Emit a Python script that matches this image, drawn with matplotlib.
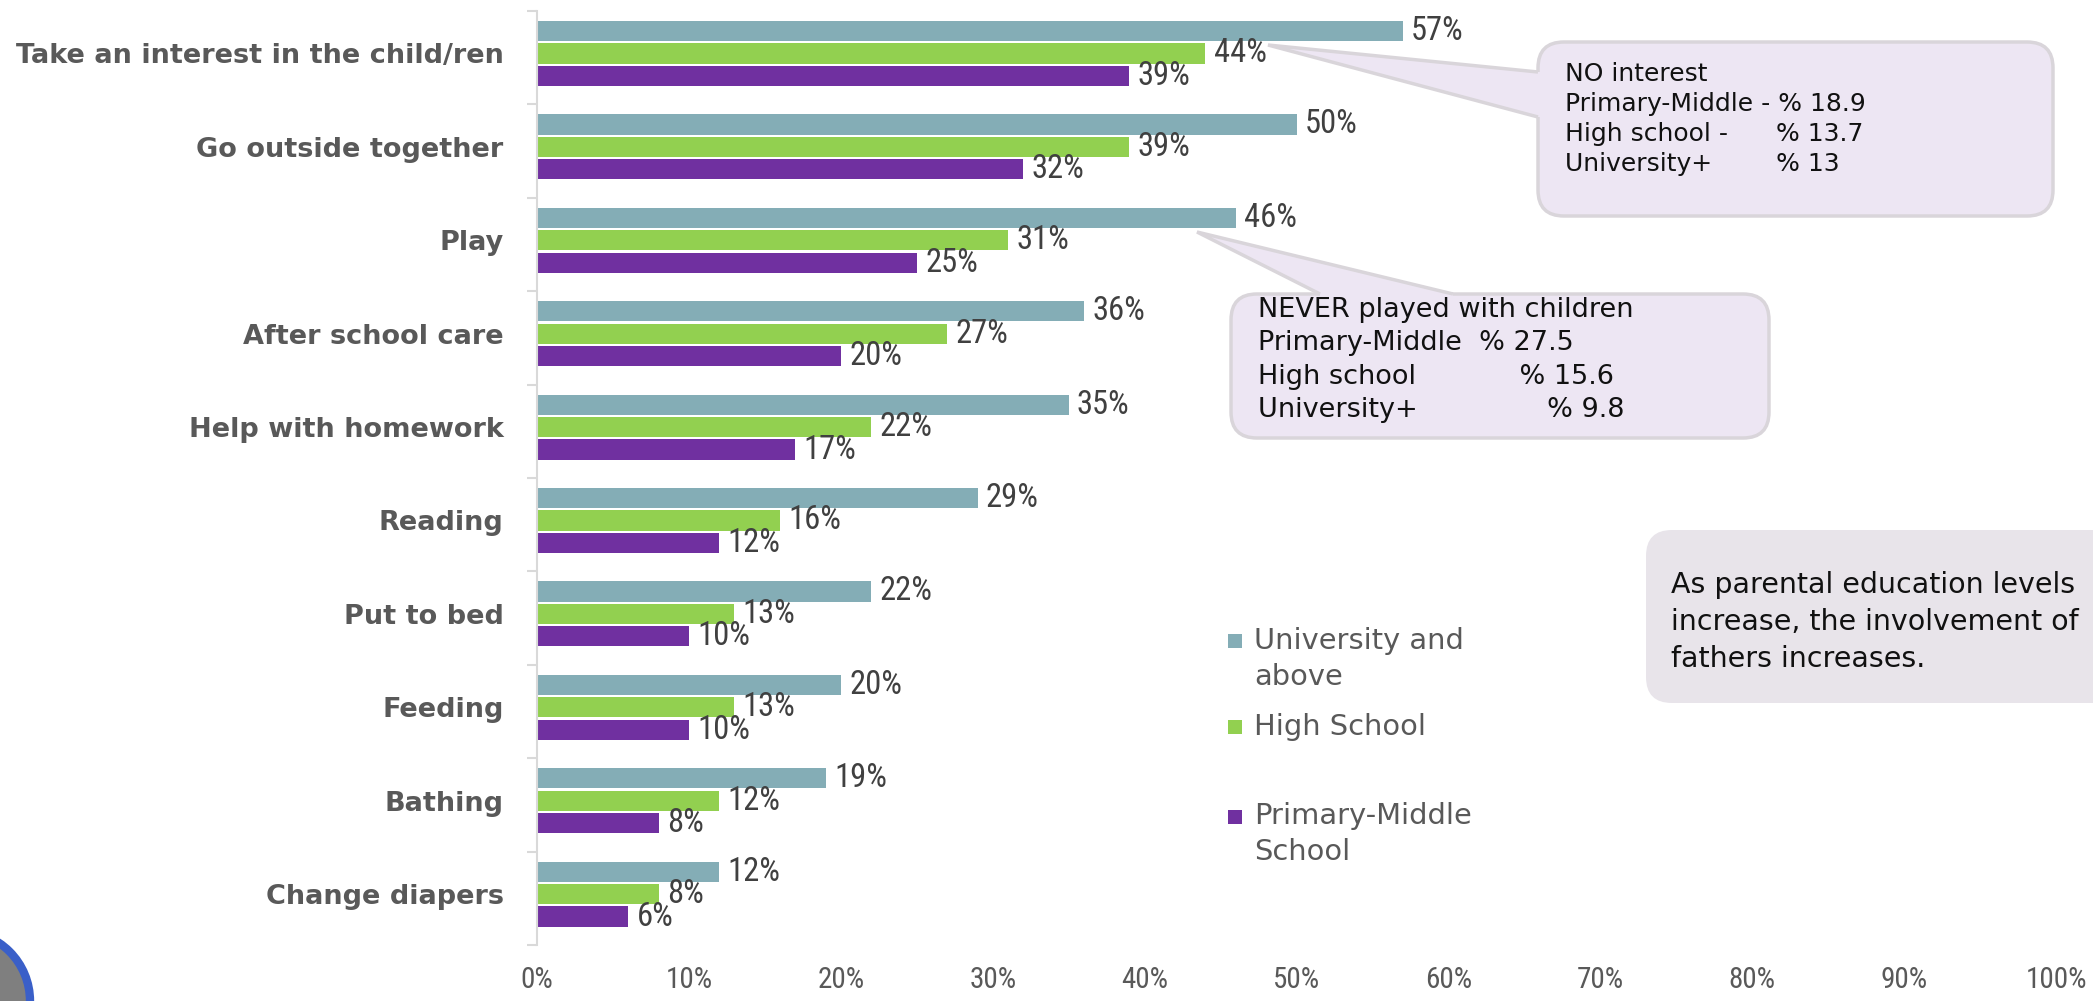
import numpy as np
import matplotlib
matplotlib.use("Agg")
import matplotlib.pyplot as plt
from matplotlib.patches import FancyBboxPatch, Polygon, Rectangle, Circle
from matplotlib.transforms import Affine2D

# data
categories = ["Take an interest in the child/ren", "Go outside together", "Play",
              "After school care", "Help with homework", "Reading", "Put to bed",
              "Feeding", "Bathing", "Change diapers"]
university = [57, 50, 46, 36, 35, 29, 22, 20, 19, 12]
high_school = [44, 39, 31, 27, 22, 16, 13, 13, 12, 8]
primary = [39, 32, 25, 20, 17, 12, 10, 10, 8, 6]
series_names = ["University and\nabove", "High School", "Primary-Middle\nSchool"]
colors = ["#84ADB6", "#92D050", "#7030A0"]
x_ticks = np.arange(0, 101, 10)

W, H = 2093, 1001
fig = plt.figure(figsize=(W / 100, H / 100), dpi=100)
ax = fig.add_axes([537 / W, 1 - 945 / H, (2056 - 537) / W, (945 - 11) / H])

# pixel coords, y pointing down
px = Affine2D().scale(1 / W, -1 / H).translate(0, 1) + fig.transFigure

NARROW = dict(family=["Roboto Condensed", "DejaVu Sans"], fontstretch="condensed")

y = np.arange(len(categories))
offsets = [-0.285, -0.045, 0.195]
bar_h = 0.215
for vals, off, col in zip([university, high_school, primary], offsets, colors):
    bars = ax.barh(y + off, vals, height=bar_h, color=col, linewidth=0)
    ax.bar_label(bars, labels=[f"{v}%" for v in vals], padding=6,
                 fontsize=23.5, color="#404040", **NARROW)

ax.set_xlim(0, 100)
ax.set_ylim(len(categories) - 0.5, -0.5)
ax.set_xticks(x_ticks)
ax.set_xticklabels([f"{t}%" for t in x_ticks], fontsize=21, color="#595959", **NARROW)
ax.tick_params(axis="x", length=0, pad=15)
ax.set_yticks(y - 0.045)
ax.set_yticklabels(categories, fontsize=19.5, fontweight="bold", color="#595959")
ax.tick_params(axis="y", which="major", length=0, pad=24)
ax.set_yticks(np.arange(-0.5, len(categories), 1), minor=True)
ax.tick_params(axis="y", which="minor", length=7, width=1.5, color="#D9D9D9")
for s in ["top", "right", "bottom"]:
    ax.spines[s].set_visible(False)
ax.spines["left"].set_color("#D9D9D9")
ax.spines["left"].set_linewidth(1.5)

# legend drawn by hand so markers sit on the first text line
leg_square = [641, 727, 817]
leg_text = [659, 727, 834]
for name, col, ys, yt in zip(series_names, colors, leg_square, leg_text):
    fig.add_artist(Rectangle((1228, ys - 7), 14, 14, transform=px, fc=col, ec="none"))
    fig.text(1254 / W, 1 - yt / H, name, fontsize=20.8, color="#595959",
             va="center", ha="left", linespacing=1.35)


def callout(box, tip, base, fc="#EDE6F3", ec="#D9D5DA"):
    x0, y0, x1, y1 = box
    fig.add_artist(FancyBboxPatch((x0, y0), x1 - x0, y1 - y0,
                                  boxstyle="round,pad=0,rounding_size=26",
                                  transform=px, fc=fc, ec=ec, lw=2.5))
    # push the fill a bit into the box to hide the border under the wedge
    cx, cy = (x0 + x1) / 2, (y0 + y1) / 2
    def inward(p):
        return (p[0] + np.sign(cx - p[0]) * 4 * (abs(p[0] - x0) < 2 or abs(p[0] - x1) < 2),
                p[1] + np.sign(cy - p[1]) * 4 * (abs(p[1] - y0) < 2 or abs(p[1] - y1) < 2))
    fig.add_artist(Polygon([inward(base[0]), base[0], tip, base[1], inward(base[1])],
                           closed=True, transform=px, fc=fc, ec="none"))
    fig.add_artist(Polygon([base[0], tip, base[1]], closed=False, fill=False,
                           transform=px, ec=ec, lw=2.5))


callout((1538, 42, 2053, 216), (1268, 45), ((1538, 72), (1538, 117)))
fig.text(1565 / W, 1 - 119 / H,
         "NO interest\nPrimary-Middle - % 18.9\nHigh school -      % 13.7\nUniversity+        % 13",
         fontsize=18, color="#111111", va="center", ha="left", linespacing=1.32)

callout((1231, 294, 1769, 438), (1197, 232), ((1320, 294), (1453, 294)))
fig.text(1258 / W, 1 - 360 / H,
         "NEVER played with children\nPrimary-Middle  % 27.5\nHigh school            % 15.6\nUniversity+               % 9.8",
         fontsize=19.5, color="#111111", va="center", ha="left", linespacing=1.37)

fig.add_artist(FancyBboxPatch((1646, 530), 560, 173, boxstyle="round,pad=0,rounding_size=26",
                              transform=px, fc="#E8E4EA", ec="none"))
fig.text(1671 / W, 1 - 622 / H,
         "As parental education levels\nincrease, the involvement of\nfathers increases.",
         fontsize=20.5, color="#111111", va="center", ha="left", linespacing=1.4)

# corner logo fragment
fig.add_artist(Circle((-40, 1001), 70, transform=px, fc="#7F7F7F", ec="#3A5FC8", lw=6))

fig.savefig("out.png", dpi=100)
